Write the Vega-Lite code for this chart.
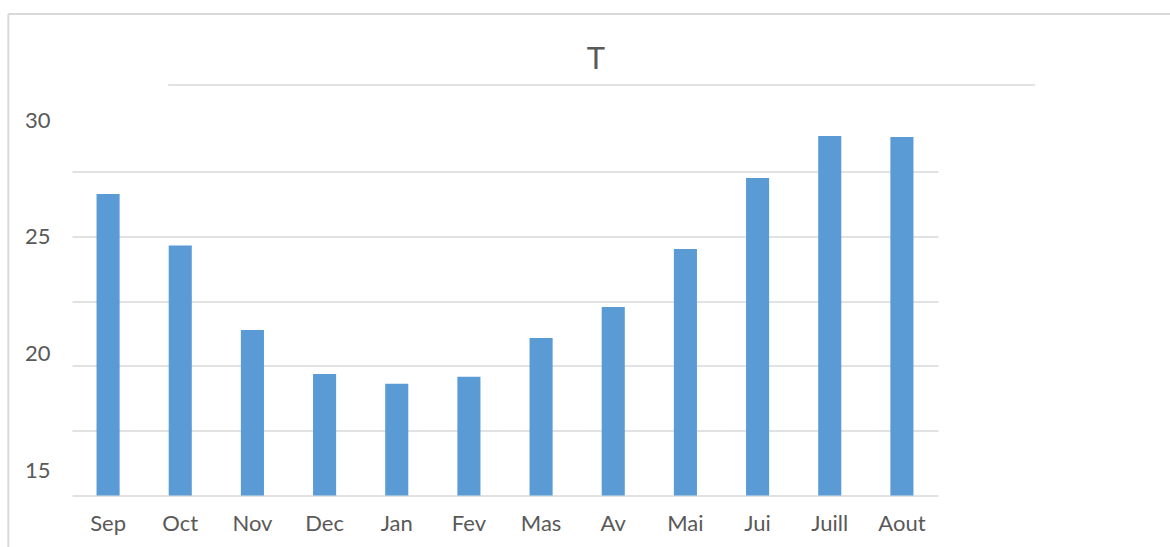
{
  "$schema": "https://vega.github.io/schema/vega-lite/v6.json",
  "width": 866,
  "height": 389,
  "autosize": {"type": "none"},
  "padding": {"left": 72, "top": 106.6, "right": 232, "bottom": 51.4},
  "background": "white",
  "config": {"view": {"stroke": null}, "font": "Lato"},
  "title": {
    "text": "T",
    "font": "Lato",
    "fontSize": 31,
    "fontWeight": "normal",
    "color": "#595959",
    "anchor": "middle",
    "dx": 91,
    "baseline": "alphabetic",
    "offset": -87
  },
  "data": {
    "values": [
      {"Mois": "Sep", "T": 26.63},
      {"Mois": "Oct", "T": 24.64},
      {"Mois": "Nov", "T": 21.39},
      {"Mois": "Dec", "T": 19.69},
      {"Mois": "Jan", "T": 19.31},
      {"Mois": "Fev", "T": 19.58},
      {"Mois": "Mas", "T": 21.08},
      {"Mois": "Av", "T": 22.27},
      {"Mois": "Mai", "T": 24.51},
      {"Mois": "Jui", "T": 27.25},
      {"Mois": "Juill", "T": 28.87},
      {"Mois": "Aout", "T": 28.83}
    ]
  },
  "layer": [
    {
      "mark": {"type": "bar", "color": "#5B9BD5", "width": {"band": 0.32}},
      "encoding": {
        "x": {
          "field": "Mois",
          "type": "nominal",
          "sort": null,
          "scale": {"paddingInner": 0, "paddingOuter": 0},
          "axis": {
            "title": null,
            "labelAngle": 0,
            "domain": false,
            "ticks": false,
            "grid": false,
            "labelFont": "Lato",
            "labelFontSize": 22,
            "labelColor": "#595959",
            "labelPadding": 18
          }
        },
        "y": {
          "field": "T",
          "type": "quantitative",
          "scale": {"domain": [15, 30], "nice": false, "zero": false},
          "axis": {
            "title": null,
            "values": [15, 17.5, 20, 22.5, 25, 27.5, 30],
            "labelExpr": "datum.value % 5 == 0 ? datum.label : ''",
            "domain": false,
            "ticks": false,
            "grid": true,
            "gridColor": "#d9d9d9",
            "gridWidth": 1.5,
            "gridOpacity": {"condition": {"test": "datum.value == 30", "value": 0}, "value": 1},
            "labelFont": "Lato",
            "labelFontSize": 22,
            "labelColor": "#595959",
            "labelPadding": 22,
            "labelOffset": {"expr": "13.5 - (30 - datum.value) * 2.57"}
          }
        },
        "y2": {"datum": 15}
      }
    },
    {
      "data": {"values": [{}]},
      "mark": {"type": "rule", "color": "#d9d9d9", "strokeWidth": 1.5},
      "encoding": {
        "x": {"datum": 0.111, "type": "quantitative", "scale": {"domain": [0, 1], "nice": false, "zero": false}, "axis": null},
        "x2": {"datum": 1.112},
        "y": {"datum": 30.83, "type": "quantitative"}
      }
    },
    {
      "data": {"values": [{}]},
      "mark": {"type": "rule", "color": "#d9d9d9", "strokeWidth": 2},
      "encoding": {
        "x": {"datum": -0.0735, "type": "quantitative", "scale": {"domain": [0, 1], "nice": false, "zero": false}, "axis": null},
        "x2": {"datum": 1.3},
        "y": {"datum": 33.57, "type": "quantitative"}
      }
    },
    {
      "data": {"values": [{}]},
      "mark": {"type": "rule", "color": "#d9d9d9", "strokeWidth": 2},
      "encoding": {
        "x": {"datum": -0.0735, "type": "quantitative", "scale": {"domain": [0, 1], "nice": false, "zero": false}, "axis": null},
        "y": {"datum": 33.57, "type": "quantitative"},
        "y2": {"datum": 12.0}
      }
    }
  ],
  "resolve": {"scale": {"x": "independent"}}
}
